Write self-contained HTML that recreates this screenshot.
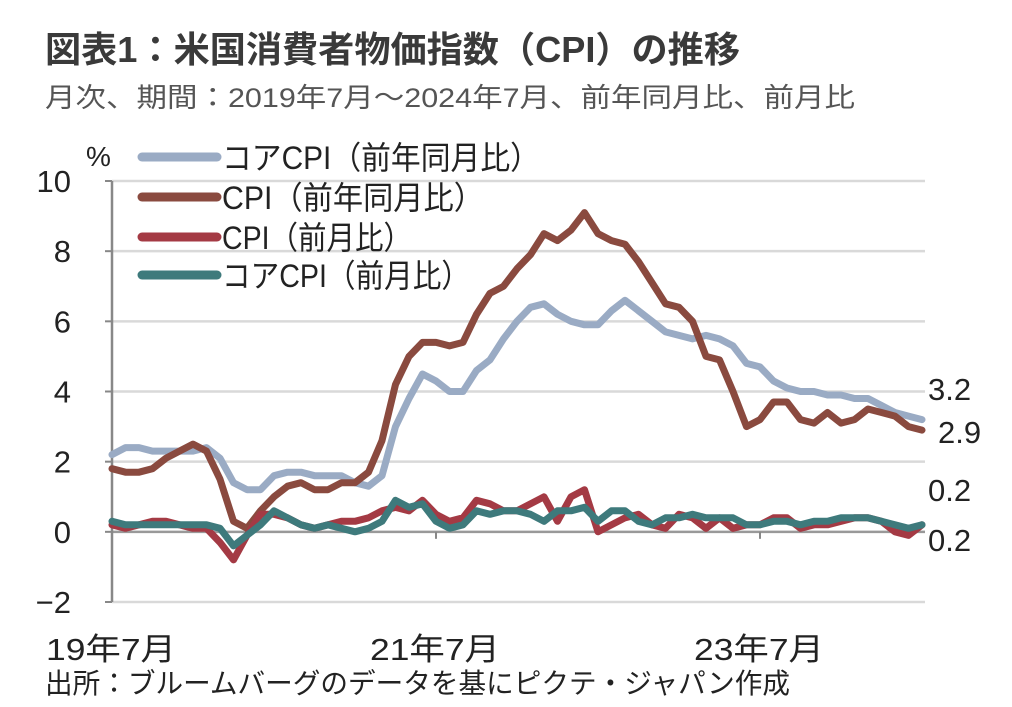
<!DOCTYPE html>
<html><head><meta charset="utf-8"><style>
html,body{margin:0;padding:0;background:#fff;}
svg{display:block;font-family:"Liberation Sans","Noto Sans CJK JP",sans-serif;}
</style></head><body>
<svg id="chart" width="1012" height="707" viewBox="0 0 1012 707">
<text x="45" y="62" font-size="36" font-weight="bold" fill="#3a3a3a" textLength="695" lengthAdjust="spacingAndGlyphs">図表1：米国消費者物価指数（CPI）の推移</text>
<text x="45" y="107" font-size="27" fill="#555" textLength="810" lengthAdjust="spacingAndGlyphs">月次、期間：2019年7月～2024年7月、前年同月比、前月比</text>
<text x="86" y="166" font-size="28" fill="#222">%</text>
<g id="grid"></g>
<g id="series"></g>
<g id="legend"></g>
<g id="labels" fill="#222"></g>
<text x="45" y="693" font-size="28" fill="#222" textLength="745" lengthAdjust="spacingAndGlyphs">出所：ブルームバーグのデータを基にピクテ・ジャパン作成</text>
</svg>
<script>
const yTicks=[10,8,6,4,2,0,-2];
const xTickLabels=["19年7月","21年7月","23年7月"];
const xTickIdx=[0,24,48];
const coreYoY=[2.2,2.4,2.4,2.3,2.3,2.3,2.3,2.4,2.1,1.4,1.2,1.2,1.6,1.7,1.7,1.6,1.6,1.6,1.4,1.3,1.6,3.0,3.8,4.5,4.3,4.0,4.0,4.6,4.9,5.5,6.0,6.4,6.5,6.2,6.0,5.9,5.9,6.3,6.6,6.3,6.0,5.7,5.6,5.5,5.6,5.5,5.3,4.8,4.7,4.3,4.1,4.0,4.0,3.9,3.9,3.8,3.8,3.6,3.4,3.3,3.2];
const cpiYoY=[1.8,1.7,1.7,1.8,2.1,2.3,2.5,2.3,1.5,0.3,0.1,0.6,1.0,1.3,1.4,1.2,1.2,1.4,1.4,1.7,2.6,4.2,5.0,5.4,5.4,5.3,5.4,6.2,6.8,7.0,7.5,7.9,8.5,8.3,8.6,9.1,8.5,8.3,8.2,7.7,7.1,6.5,6.4,6.0,5.0,4.9,4.0,3.0,3.2,3.7,3.7,3.2,3.1,3.4,3.1,3.2,3.5,3.4,3.3,3.0,2.9];
const cpiMoM=[0.2,0.1,0.2,0.3,0.3,0.2,0.1,0.1,-0.3,-0.8,-0.1,0.5,0.5,0.4,0.2,0.1,0.2,0.3,0.3,0.4,0.6,0.7,0.6,0.9,0.5,0.3,0.4,0.9,0.8,0.6,0.6,0.8,1.0,0.3,1.0,1.2,0.0,0.2,0.4,0.5,0.2,0.1,0.5,0.4,0.1,0.4,0.1,0.2,0.2,0.4,0.4,0.1,0.2,0.2,0.3,0.4,0.4,0.3,0.0,-0.1,0.2];
const coreMoM=[0.3,0.2,0.2,0.2,0.2,0.2,0.2,0.2,0.1,-0.4,-0.1,0.2,0.6,0.4,0.2,0.1,0.2,0.1,0.0,0.1,0.3,0.9,0.7,0.8,0.3,0.1,0.2,0.6,0.5,0.6,0.6,0.5,0.3,0.6,0.6,0.7,0.3,0.6,0.6,0.3,0.2,0.4,0.4,0.5,0.4,0.4,0.4,0.2,0.2,0.3,0.3,0.2,0.3,0.3,0.4,0.4,0.4,0.3,0.2,0.1,0.2];
const seriesNames=["コアCPI（前年同月比）","CPI（前年同月比）","CPI（前月比）","コアCPI（前月比）"];
const seriesKeys=["core-yoy","cpi-yoy","cpi-mom","core-mom"];
const colors=["#9aabc4","#8a4a3f","#a43a44","#3e7a7c"];
const NS="http://www.w3.org/2000/svg";
const x0=112,x1=922,yTop=181,yBot=602;
const n=cpiYoY.length;
function xs(i){return x0+(x1-x0)*i/(n-1);}
function ys(v){return yBot-(v-(-2))*(yBot-yTop)/12;}
function mk(t,a,p){const e=document.createElementNS(NS,t);for(const k in a)e.setAttribute(k,a[k]);p.appendChild(e);return e;}
const grid=document.getElementById('grid');
yTicks.forEach(v=>{
  const l=mk('line',{x1:x0,x2:925,y1:ys(v),y2:ys(v),stroke:v===0?'#999':'#d9d9d9','stroke-width':2.5},grid);
  
  
  const tk=mk('line',{x1:x0-7,x2:x0,y1:ys(v),y2:ys(v),stroke:'#888','stroke-width':2},grid);
  
  
  const t=mk('text',{x:71,y:ys(v)+11,'font-size':31,fill:'#222','text-anchor':'end'},grid);
  t.textContent=v<0?'−'+(-v):String(v);
  
  
});
const ax=mk('line',{x1:x0,x2:x0,y1:yTop,y2:yBot,stroke:'#888','stroke-width':2.5},grid);


xTickIdx.forEach((ix,k)=>{
  const tk=mk('line',{x1:xs(ix),x2:xs(ix),y1:ys(0),y2:ys(0)+7,stroke:'#888','stroke-width':2},grid);
  
  
  const t=mk('text',{x:xs(ix)-66,y:660,'font-size':31,fill:'#222',textLength:130,lengthAdjust:'spacingAndGlyphs'},grid);
  t.textContent=xTickLabels[k];
  
  
});
const data=[coreYoY,cpiYoY,cpiMoM,coreMoM];
const sg=document.getElementById('series');
[0,1,2,3].forEach(s=>{
  const pts=data[s].map((v,i)=>xs(i).toFixed(1)+','+ys(v).toFixed(1)).join(' ');
  const p=mk('polyline',{points:pts,fill:'none',stroke:colors[s],'stroke-width':7,'stroke-linejoin':'round','stroke-linecap':'round'},sg);
  
  
});
const lg=document.getElementById('legend');
const lgY=[157,197,237,275];
const lgW=[318,262,190,248];
[0,1,2,3].forEach(s=>{
  const g=mk('g',{},lg);
  
  
  mk('line',{x1:142,x2:217,y1:lgY[s],y2:lgY[s],stroke:colors[s],'stroke-width':9,'stroke-linecap':'round'},g);
  const t=mk('text',{x:222,y:lgY[s]+12,'font-size':32,fill:'#222',textLength:lgW[s],lengthAdjust:'spacingAndGlyphs'},g);
  t.textContent=seriesNames[s];
});
const lb=document.getElementById('labels');
const endLbl=[[coreYoY,928,400],[cpiYoY,938,443],[cpiMoM,928,501],[coreMoM,928,551]];
endLbl.forEach((e,k)=>{
  const t=mk('text',{x:e[1],y:e[2],'font-size':31,fill:'#222'},lb);
  t.textContent=e[0][e[0].length-1].toFixed(1);
  
  
});
</script>
</body></html>
